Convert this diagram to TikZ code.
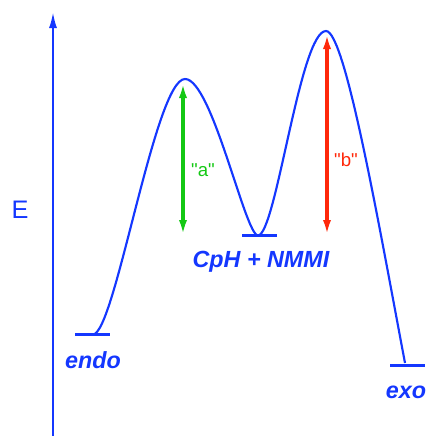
\documentclass[tikz,border=0pt]{standalone}
\usepackage{fontspec}
\setmainfont{Liberation Sans}
\usetikzlibrary{arrows.meta}
\definecolor{eblue}{RGB}{20,55,255}
\definecolor{egreen}{RGB}{20,200,20}
\definecolor{ered}{RGB}{255,40,10}

\begin{document}
\begin{tikzpicture}[x=0.75pt,y=-0.75pt,
  level/.style={draw=eblue,line width=2pt},
  state/.style={text=eblue,font=\fontsize{17.5}{20}\selectfont\bfseries\itshape},
  barrier/.style={font=\fontsize{14}{16}\selectfont},
  gap/.style={line width=2.5pt,{Latex[length=12pt,width=6pt]}-{Latex[length=12pt,width=6pt]}}]
\useasboundingbox (0,0) rectangle (431,436);

% energy axis
\coordinate (axis0) at (53,436);
\coordinate (axis1) at (53,12);
\draw[eblue,line width=1.6pt,-{Latex[length=12pt,width=6pt]}] (axis0) -- (axis1);
\node[text=eblue,font=\fontsize{19}{22}\selectfont] (elab) at (20,210) {E};

% stationary points
\coordinate (endo) at (93,334.5);
\coordinate (ts1) at (185,79);
\coordinate (cp) at (258,235.5);
\coordinate (ts2) at (326,31);
\coordinate (exoend) at (405,363);
\coordinate (exo) at (407.5,365.5);

\draw[level] (endo) ++(-18,0) -- ++(35,0);
\draw[level] (cp) ++(-16,0) -- ++(35,0);
\draw[level] (exo) ++(-17.5,0) -- ++(35,0);

% energy profile
\draw[eblue,line width=1.6pt] (endo) .. controls (115,334) and (155,79) .. (ts1)
  .. controls (212,79) and (245,235) .. (cp)
  .. controls (276,235) and (300,31) .. (ts2)
  .. controls (345,31) and (378,220) .. (exoend);

\node[state] (endolab) at (93,360) {endo};
\node[state] (cplab) at (261,262) {CpH + NMMI};
\node[state] (exolab) at (406,392) {exo};

% barriers
\coordinate (atop) at (183,82);
\coordinate (abot) at (183,236);
\coordinate (btop) at (327,33);
\coordinate (bbot) at (327,236);
\draw[gap,egreen] (abot) -- (atop);
\draw[gap,ered] (bbot) -- (btop);
\node[barrier,text=egreen] (alab) at (203,170) {\textquotedbl a\textquotedbl};
\node[barrier,text=ered] (blab) at (346,160) {\textquotedbl b\textquotedbl};
\end{tikzpicture}
\end{document}
